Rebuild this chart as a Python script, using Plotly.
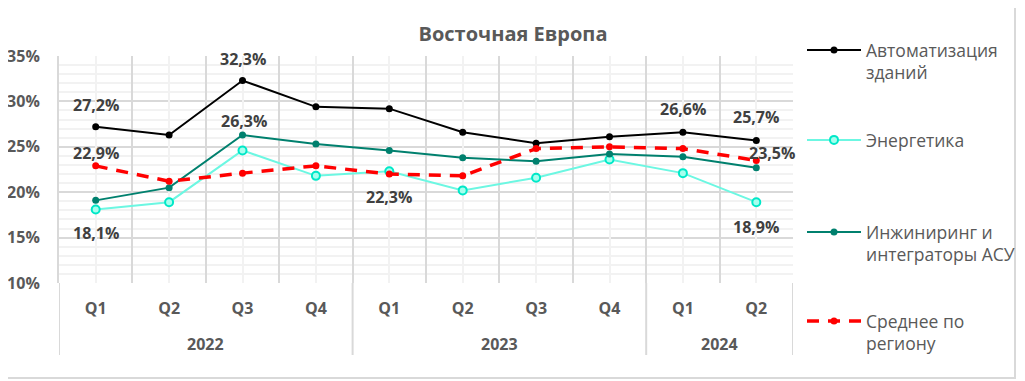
import plotly.graph_objects as go

# ---- data ----
years = ["2022", "2022", "2022", "2022", "2023", "2023", "2023", "2023", "2024", "2024"]
quarters = ["Q1", "Q2", "Q3", "Q4", "Q1", "Q2", "Q3", "Q4", "Q1", "Q2"]

automation = [27.2, 26.3, 32.3, 29.4, 29.2, 26.6, 25.4, 26.1, 26.6, 25.7]
energy = [18.1, 18.9, 24.6, 21.8, 22.3, 20.2, 21.6, 23.6, 22.1, 18.9]
engineering = [19.1, 20.5, 26.3, 25.3, 24.6, 23.8, 23.4, 24.2, 23.9, 22.7]
average = [22.9, 21.2, 22.1, 22.9, 22.0, 21.8, 24.8, 25.0, 24.8, 23.5]

names = ["Автоматизация<br>зданий", "Энергетика", "Инжиниринг и<br>интеграторы АСУ", "Среднее по<br>региону"]
title_text = "Восточная Европа"

# which points carry a data label: (series, index, x-shift px, y-shift px)
labels = [
    ("automation", 0, 0, 22), ("automation", 2, 0, 22), ("automation", 8, 0, 23), ("automation", 9, 0, 23),
    ("engineering", 2, 1, 14),
    ("average", 0, 0, 13), ("average", 9, 16, 7),
    ("energy", 0, 0, -24), ("energy", 4, 0, -26), ("energy", 9, 0, -25),
]
series = {"automation": automation, "energy": energy, "engineering": engineering, "average": average}

# year groups derived from the category lists
n = len(quarters)
year_names = []
year_bounds = [-0.5]
for i, yv in enumerate(years):
    if yv not in year_names:
        year_names.append(yv)
        if i > 0:
            year_bounds.append(i - 0.5)
year_bounds.append(n - 0.5)
year_centers = [(year_bounds[k] + year_bounds[k + 1]) / 2 for k in range(len(year_names))]
cat_bounds = [i - 0.5 for i in range(n + 1)]

GRAY = "#595959"
FONT = "Open Sans"

x = [years, quarters]
fig = go.Figure()

fig.add_trace(go.Scatter(
    x=x, y=automation, name=names[0], mode="lines+markers",
    line=dict(color="#000000", width=2), marker=dict(size=7, color="#000000"),
    legend="legend"))
fig.add_trace(go.Scatter(
    x=x, y=energy, name=names[1], mode="lines+markers",
    line=dict(color="#6CF7E2", width=2),
    marker=dict(size=8, color="#A6FFEE", line=dict(color="#00E8C8", width=2)),
    legend="legend2"))
fig.add_trace(go.Scatter(
    x=x, y=engineering, name=names[2], mode="lines+markers",
    line=dict(color="#00806E", width=2), marker=dict(size=7, color="#00806E"),
    legend="legend3"))
fig.add_trace(go.Scatter(
    x=x, y=average, name=names[3], mode="lines+markers",
    line=dict(color="#FF0000", width=3.5, dash="12px,9px"), marker=dict(size=7, color="#FF0000"),
    legend="legend4"))

# page body has an 8px margin: figure origin sits at screen (8, 8)
OFF = 8
W, H = 1025 - OFF, 381 - OFF
# plot area on screen: x 59..793, y 56..283
L, R, T, B = 59 - OFF, 793 - OFF, 56 - OFF, 283 - OFF
pw, ph = R - L, B - T

def px_x(p):  # screen px -> paper x
    return (p - OFF - L) / pw

def px_y(p):  # screen px -> paper y
    return (B - (p - OFF)) / ph

def cx(p):  # screen px -> container x
    return (p - OFF) / W

def cy(p):  # screen px -> container y
    return 1 - (p - OFF) / H

annotations = []
for key, i, dx, dy in labels:
    v = series[key][i]
    annotations.append(dict(
        x=i, y=v, xref="x2", yref="y", showarrow=False,
        text=f"{v:.1f}".replace(".", ",") + "%",
        xshift=dx, yshift=dy,
        font=dict(family=FONT, size=16, color="#404040", weight="bold")))
for yc, yn in zip(year_centers, year_names):
    annotations.append(dict(
        x=yc, y=0, xref="x2", yref="paper", showarrow=False, yanchor="middle",
        yshift=-61, text=yn,
        font=dict(family=FONT, size=16, color=GRAY, weight="bold")))

shapes = [dict(type="rect", xref="paper", yref="paper",
               x0=px_x(1), x1=px_x(1015), y0=px_y(378), y1=px_y(1),
               line=dict(color="#D9D9D9", width=2), layer="below")]
for b in year_bounds:
    shapes.append(dict(type="line", xref="x2", yref="paper", x0=b, x1=b,
                       y0=0, y1=-72 / ph, line=dict(color="#D9D9D9", width=2)))

legend_common = dict(
    font=dict(family=FONT, size=17.5, color=GRAY), bgcolor="rgba(0,0,0,0)",
    xref="container", yref="container",
    xanchor="left", yanchor="top", valign="top", itemwidth=54, tracegroupgap=0,
    itemclick=False, itemdoubleclick=False)

fig.update_layout(
    width=W, height=H,
    margin=dict(l=L, r=W - R, t=T, b=H - B, pad=0, autoexpand=False),
    paper_bgcolor="white", plot_bgcolor="white",
    separators=", ",
    title=dict(text=title_text, x=cx(513), xref="container", xanchor="center",
               y=cy(27), yref="container", yanchor="top",
               font=dict(family=FONT, size=20, color=GRAY, weight="bold")),
    showlegend=True,
    legend=dict(x=cx(802), y=cy(32), **legend_common),
    legend2=dict(x=cx(802), y=cy(122), **legend_common),
    legend3=dict(x=cx(802), y=cy(214), **legend_common),
    legend4=dict(x=cx(802), y=cy(303), **legend_common),
    xaxis=dict(type="multicategory", range=[-0.5, n - 0.5], automargin=False,
               showgrid=False, showdividers=False, showticklabels=False,
               showline=False, ticks=""),
    # quarter labels, centre gridlines (light) and boundary gridlines (darker)
    xaxis2=dict(overlaying="x", anchor="y", side="bottom", range=[-0.5, n - 0.5],
                automargin=False, zeroline=False, showline=False,
                tickmode="array", tickvals=list(range(n)), ticktext=quarters, ticks="",
                ticklabelstandoff=14,
                tickfont=dict(family=FONT, size=16, color=GRAY, weight="bold"),
                showgrid=True, gridcolor="#F2F2F2", gridwidth=2,
                minor=dict(tickmode="array", tickvals=cat_bounds, ticks="",
                           showgrid=True, gridcolor="#D9D9D9", gridwidth=2)),
    yaxis=dict(range=[10, 35], dtick=5, tick0=0, ticksuffix="%", automargin=False,
               showgrid=True, gridcolor="#D9D9D9", gridwidth=2,
               minor=dict(dtick=1, showgrid=True, gridcolor="#F2F2F2", gridwidth=2),
               showline=True, linecolor="#D9D9D9", linewidth=2,
               zeroline=False, ticks="", ticklabelstandoff=14,
               tickfont=dict(family=FONT, size=16, color=GRAY, weight="bold")),
    annotations=annotations,
    shapes=shapes,
)

fig.write_html("out.html")
